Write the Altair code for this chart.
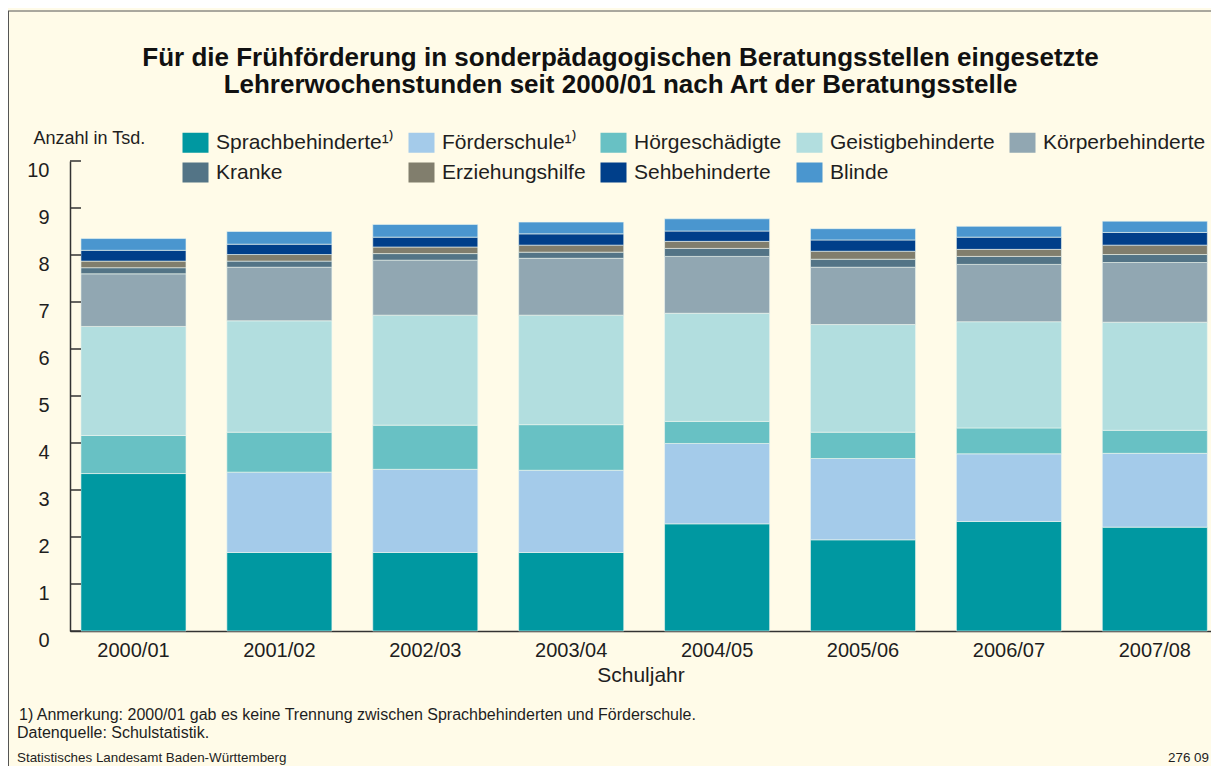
import altair as alt
import pandas as pd

# ---------------- data ----------------
years = ["2000/01", "2001/02", "2002/03", "2003/04", "2004/05", "2005/06", "2006/07", "2007/08"]
categories = ["Sprachbehinderte", "Förderschule", "Hörgeschädigte", "Geistigbehinderte",
              "Körperbehinderte", "Kranke", "Erziehungshilfe", "Sehbehinderte", "Blinde"]
colors = ["#0098A1", "#A4CBEA", "#68C1C4", "#B2DEDF", "#91A7B2",
          "#537486", "#817E6D", "#003F8A", "#4A96CF"]

sprach = [3.35, 1.67, 1.67, 1.67, 2.28, 1.94, 2.33, 2.21]
foerder = [0.00, 1.71, 1.77, 1.75, 1.71, 1.73, 1.44, 1.57]
hoer = [0.81, 0.85, 0.94, 0.97, 0.47, 0.56, 0.55, 0.49]
geistig = [2.32, 2.37, 2.34, 2.33, 2.30, 2.29, 2.26, 2.30]
koerper = [1.12, 1.14, 1.17, 1.21, 1.21, 1.22, 1.22, 1.27]
kranke = [0.13, 0.13, 0.14, 0.13, 0.17, 0.17, 0.17, 0.17]
erziehung = [0.14, 0.14, 0.14, 0.15, 0.15, 0.17, 0.15, 0.20]
seh = [0.23, 0.22, 0.21, 0.24, 0.22, 0.24, 0.26, 0.27]
blinde = [0.25, 0.27, 0.27, 0.25, 0.26, 0.24, 0.23, 0.24]

y_ticks = [0, 1, 2, 3, 4, 5, 6, 7, 8, 9, 10]

title_line1 = ["Für die Frühförderung in sonderpädagogischen Beratungsstellen eingesetzte"]
title_line2 = ["Lehrerwochenstunden seit 2000/01 nach Art der Beratungsstelle"]
y_title = "Anzahl in Tsd."
x_title = "Schuljahr"
footnote = ["1) Anmerkung: 2000/01 gab es keine Trennung zwischen Sprachbehinderten und Förderschule."]
source = ["Datenquelle: Schulstatistik."]
publisher = ["Statistisches Landesamt Baden-Württemberg"]
chart_no = ["276 09"]

# ---------------- table ----------------
series = [sprach, foerder, hoer, geistig, koerper, kranke, erziehung, seh, blinde]
rows = []
for ci, (cat, vals) in enumerate(zip(categories, series)):
    for yr, v in zip(years, vals):
        if v > 0:
            rows.append({"Schuljahr": yr, "Art": cat, "Wert": v, "idx": ci})
df = pd.DataFrame(rows)

FONT = "Liberation Sans"
INK = "#1E1E1E"

y_scale = alt.Scale(domain=[0, 10], nice=False)
y_axis = alt.Axis(values=y_ticks, format="d", ticks=False, grid=False,
                  domainColor="#333333", domainWidth=1.5,
                  labelPadding=21, labelOffset=9, labelFontSize=20, labelColor=INK,
                  labelFont=FONT, title=y_title, titleAngle=0, titleX=-37, titleY=-23,
                  titleAlign="left", titleBaseline="middle", titleFontSize=18,
                  titleFontWeight="normal", titleColor=INK, titleFont=FONT)

bars = alt.Chart(df).mark_bar(stroke="#EEF6F0", strokeWidth=0.6).encode(
    x=alt.X("Schuljahr:N", sort=years,
            scale=alt.Scale(paddingInner=0.28, paddingOuter=0.05, align=0.75),
            axis=alt.Axis(title=x_title, labelAngle=0, ticks=False, domainColor="#333333",
                          domainWidth=1.5, labelPadding=9, labelFontSize=20, labelColor=INK,
                          titleFontSize=21, titleFontWeight="normal", titleColor=INK,
                          titlePadding=4, labelFont=FONT, titleFont=FONT)),
    y=alt.Y("Wert:Q", stack="zero", scale=y_scale, axis=y_axis),
    color=alt.Color("Art:N", scale=alt.Scale(domain=categories, range=colors),
                    legend=alt.Legend(title=None, orient="none", legendX=115, legendY=-29,
                                      direction="horizontal", columns=5,
                                      symbolType="M-1.3,-1H1.3V1H-1.3Z", symbolSize=400,
                                      symbolStrokeWidth=0, symbolOpacity=1,
                                      labelFontSize=21, labelFont=FONT, labelColor=INK,
                                      labelOffset=10, columnPadding=14, rowPadding=8,
                                      labelLimit=400, padding=0,
                                      labelExpr="(datum.label == 'Sprachbehinderte' || datum.label == 'Förderschule') ? datum.label + '¹⁾' : datum.label")),
    order=alt.Order("idx:Q"),
)

tick_df = pd.DataFrame({"t": y_ticks})
ticks = alt.Chart(tick_df).mark_rule(color="#333333", strokeWidth=1.5).encode(
    y=alt.Y("t:Q", scale=y_scale, axis=y_axis), x=alt.value(0), x2=alt.value(11))


def note(lines, x, y, size, align="left", weight="normal", color=INK):
    return alt.Chart(pd.DataFrame({"n": lines})).mark_text(
        align=align, baseline="middle", fontSize=size, font=FONT, color=color,
        fontWeight=weight
    ).encode(text="n:N", x=alt.value(x), y=alt.value(y))


frame_df = pd.DataFrame({"f": [1]})
frame_top = alt.Chart(frame_df).mark_rule(color="#555555", strokeWidth=1).encode(
    x=alt.value(-62), x2=alt.value(1141), y=alt.value(-150))
frame_left = alt.Chart(frame_df).mark_rule(color="#555555", strokeWidth=1).encode(
    x=alt.value(-61.5), y=alt.value(-150), y2=alt.value(605))

chart = alt.layer(
    bars, ticks,
    note(title_line1, 550.5, -103, 26, align="center", weight="bold", color="#111111"),
    note(title_line2, 550.5, -76, 26, align="center", weight="bold", color="#111111"),
    note(footnote, -51, 554, 16),
    note(source, -53, 572, 16),
    note(publisher, -53, 597, 13.4),
    note(chart_no, 1139, 597, 13.4, align="right"),
    frame_top, frame_left,
).properties(
    width=1141, height=470,
    padding={"left": 62, "top": 153, "right": 0, "bottom": 135},
    autosize=alt.AutoSizeParams(type="none"),
).configure(
    background="#FFFBE8", font=FONT
).configure_view(strokeWidth=0)

chart.save("out.html", embed_options={"renderer": "svg", "actions": False})
